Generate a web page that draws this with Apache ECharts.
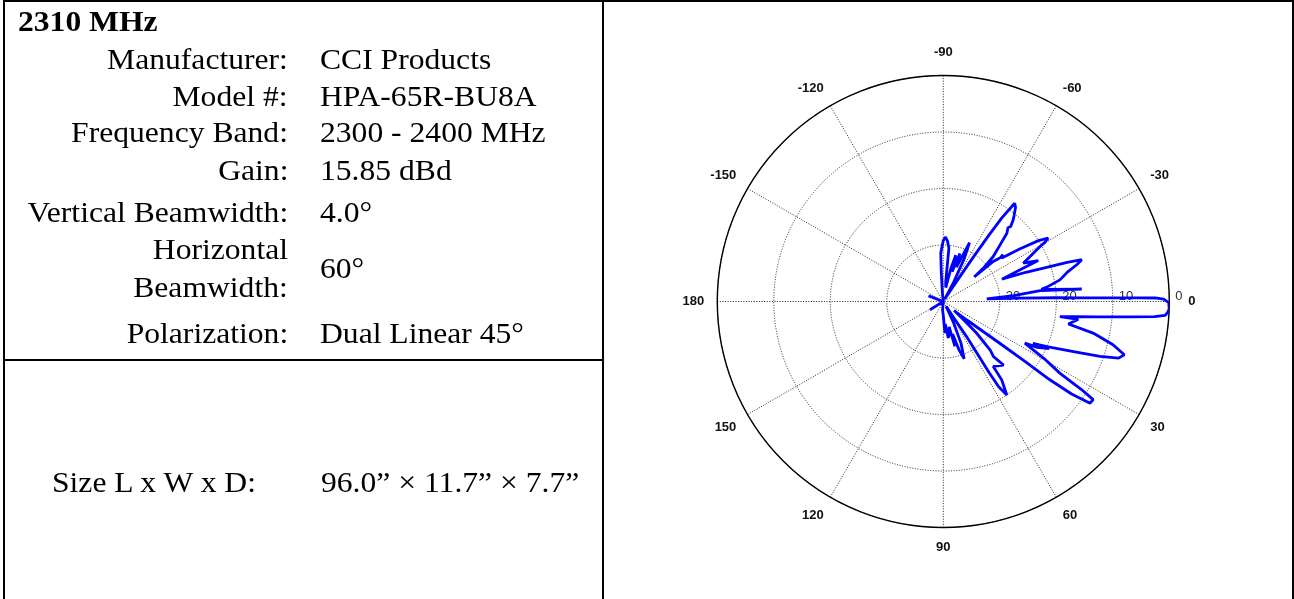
<!DOCTYPE html>
<html>
<head>
<meta charset="utf-8">
<script src="https://cdn.jsdelivr.net/npm/echarts@6/dist/echarts.min.js"></script>
<style>
html,body{margin:0;padding:0;background:#fff;overflow:hidden;}
#wrap{position:relative;width:1294px;height:599px;}
#chart{position:absolute;left:0;top:0;width:1294px;height:599px;}
.ln{position:absolute;background:#000;}
.t{position:absolute;font-family:"Liberation Serif","Times New Roman",serif;font-size:29px;line-height:29px;white-space:nowrap;color:#000;}
.r{transform:scaleX(1.09);transform-origin:100% 50%;text-align:right;right:1006px;}
.l{transform:scaleX(1.09);transform-origin:0 50%;}
</style>
</head>
<body>
<div id="wrap">
  <div id="chart"></div>
  <div id="table"></div>
</div>
<script>
// ---- Table text ----
const titleText = "2310 MHz";
const specLabels = ["Manufacturer:", "Model #:", "Frequency Band:", "Gain:", "Vertical Beamwidth:", "Horizontal", "Beamwidth:", "Polarization:"];
const specLabelBaselines = [69, 106, 142, 180, 222, 259, 297, 343];
const specValues = ["CCI Products", "HPA-65R-BU8A", "2300 - 2400 MHz", "15.85 dBd", "4.0°", "60°", "Dual Linear 45°"];
const specValueBaselines = [69, 106, 142, 180, 222, 278, 343];
const sizeLabel = "Size L x W x D:";
const sizeValue = "96.0” × 11.7” × 7.7”";

// ---- Antenna pattern (angle in degrees, gain in dB) ----
const patternAngle = [
  -180, -165, -159, -153, -100, -96, -94, -93, -90, -88, -86, -84, -83, -80, -77, -75, -73.5, -71, -69, -66,
  -64, -62, -59, -57, -56, -55.5, -55, -54, -52.5, -50.5, -49.4, -48, -48.8, -47, -44.5, -42, -40, -38.5,
  -38.8, -37.5, -38.3, -36.6, -34.5, -32.6, -31.2, -30.2, -29.6, -27.4, -25.6, -23.3, -22.5, -20.9,
  -19.5, -18.4, -17.5, -16.8, -15.4, -13.5, -10.5, -7.9, -7.1, -5.1, -6.4, -4.8, -3.5,
  -2.6, -1.9, -1.5, -1.25, -1.05, -0.95, -0.6, 0.3, 1.9, 2.9, 3.6, 4.1, 4.7, 5.6, 6.5, 7.4,
  7.5, 10.2, 11.9, 14.3, 16.4, 17.9, 19.3, 21, 23.5, 25, 24, 26, 27, 29.5, 31.6, 32.5, 33.2, 34.7,
  35.8, 36.3, 36.3, 36.5, 38.2, 40, 42, 43.5, 46, 47.7, 46.5, 52.4, 53.3, 55.8, 57, 57.2, 56.5, 57.5,
  60, 64, 67, 70, 72, 74, 75.5, 77, 80, 82.2, 85, 87, 90, 95, 100, 144, 148, 152, 180
];
const patternGain = [
  -40, -40, -37.2, -40, -40, -38.5, -35, -31.4, -29.2, -28.6, -29.3, -30.5, -36.5, -37.5, -34, -31.5, -34.5, -31, -33.5, -28.6,
  -31.5, -36, -39.5, -37.5, -31, -25.8, -22, -18.5, -19, -20.3, -21, -22.2, -22.6, -23.5, -26.2, -28.1, -30.5, -33,
  -28.8, -27.2, -26.6, -27.1, -23.5, -20, -18.3, -19.2, -20.3, -22.7, -24.3, -21.7, -25, -28.9,
  -24.5, -21.3, -17, -14.4, -15.5, -17.3, -19, -21.5, -22.5, -15.4, -22.5, -27.5, -32.3,
  -26.5, -20, -15, -10, -5, -2.5, -1, -0.1, 0, -0.3, -0.7, -2.5, -6.8, -12.2, -16.5, -19.2,
  -15.9, -17.5, -12.9, -9, -6.6, -7.4, -10.6, -15.3, -20, -22.5, -19.5, -21.5, -23.8, -19.5, -15.8, -11, -8.3, -8.4,
  -12, -16.6, -22, -27.5, -34.7, -37.5, -35, -31.9, -28, -26.8, -24.5, -25.5, -22.7, -20, -22, -25, -32.6, -37,
  -39, -36, -32, -29.2, -31, -34, -31.8, -35.4, -34, -33.5, -36, -34.4, -37.5, -38.5, -40, -40, -37.2, -40, -40
];

// radial (dB) ticks and angle ticks
const radiusMin = -40, radiusMax = 0, radiusStep = 10;
const angleStep = 30;

// ---- build table ----
const table = document.getElementById('table');
function addLine(l, t, w, h) {
  const d = document.createElement('div');
  d.className = 'ln';
  d.style.left = l + 'px'; d.style.top = t + 'px'; d.style.width = w + 'px'; d.style.height = h + 'px';
  table.appendChild(d);
}
function addText(txt, cls, baseline, left, bold) {
  const d = document.createElement('div');
  d.className = 't ' + cls;
  d.textContent = txt;
  d.style.top = (baseline - 24.3) + 'px';
  if (left !== null) d.style.left = left + 'px';
  if (bold) d.style.fontWeight = 'bold';
  table.appendChild(d);
}
addLine(3, 0, 1291, 2);
addLine(3, 0, 2, 599);
addLine(1292, 0, 2, 599);
addLine(602, 0, 2, 599);
addLine(3, 359, 600, 2);

addText(titleText, 'l', 31, 18, true);
specLabels.forEach((s, i) => addText(s, 'r', specLabelBaselines[i], null, false));
specValues.forEach((s, i) => addText(s, 'l', specValueBaselines[i], 320, false));
addText(sizeLabel, 'l', 492, 52, false);
addText(sizeValue, 'l', 492, 321, false);

// ---- chart ----
const data = patternAngle.map((a, i) => [Math.max(patternGain[i], radiusMin), a < 0 ? a + 360 : a]);
const labelFont = '"Liberation Sans", Arial, sans-serif';

const chart = echarts.init(document.getElementById('chart'), null, {renderer: 'canvas'});
chart.setOption({
  animation: false,
  polar: {center: [943.3, 301.5], radius: 226},
  angleAxis: {
    type: 'value', min: 0, max: 360, interval: angleStep,
    startAngle: 0, clockwise: true,
    axisLine: {lineStyle: {color: '#000', width: 1.4}},
    axisTick: {show: false},
    splitLine: {lineStyle: {color: '#222', type: [1, 1.6], width: 1}},
    axisLabel: {
      margin: 13, color: '#111', fontSize: 13, fontWeight: 'bold', fontFamily: labelFont,
      formatter: function (v) {
        const d = v > 180 ? v - 360 : v;
        if (d === 0) return '{z|0}';
        if (d === -90) return '{n|-90}';
        return String(d);
      },
      rich: {
        z: {padding: [0, 0, 0, 6], fontSize: 13, fontWeight: 'bold', color: '#111', fontFamily: labelFont},
        n: {padding: [0, 0, 4, 0], fontSize: 13, fontWeight: 'bold', color: '#111', fontFamily: labelFont}
      }
    }
  },
  radiusAxis: {
    type: 'value', min: radiusMin, max: radiusMax, interval: radiusStep,
    axisLine: {show: false},
    axisTick: {show: false},
    splitLine: {lineStyle: {color: '#222', type: [1, 1.6], width: 1}},
    axisLabel: {
      margin: -1, align: 'left', verticalAlign: 'bottom', padding: [0, 0, 0, 6],
      color: '#333', fontSize: 13, fontFamily: labelFont,
      formatter: function (v) { return v === radiusMin ? '' : String(Math.abs(v)); }
    }
  },
  series: [{
    type: 'line', coordinateSystem: 'polar', symbol: 'none', showSymbol: false,
    lineStyle: {color: '#0000ff', width: 2.8},
    data: data
  }]
});
</script>
</body>
</html>
